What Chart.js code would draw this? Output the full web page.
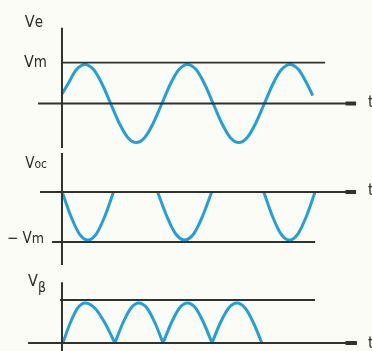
<!DOCTYPE html>
<html>
<head>
<meta charset="utf-8">
<script src="https://cdn.jsdelivr.net/npm/chart.js@4"></script>
<style>
  html, body { margin: 0; padding: 0; background: #fcfcf6; }
  #wrap { position: relative; width: 372px; height: 351px; overflow: hidden; }
  canvas { display: block; }
</style>
</head>
<body>
<div id="wrap"><canvas id="c" width="372" height="351"></canvas></div>
<script>
// ---- data (x in degrees of the input signal, y in units of Vm) ----
const veT = [10,30,60,90,120,150,180,210,240,270,300,330,360,390,420,450,480,510,540,570,600,630,660,690,720,750,780,810,840,870,890];
const veV = [0.25,0.5,0.87,1,0.87,0.5,0,-0.5,-0.87,-1,-0.87,-0.5,0,0.5,0.87,1,0.87,0.5,0,-0.5,-0.87,-1,-0.87,-0.5,0,0.5,0.87,1,0.87,0.5,0.2];

const vocT = [10,40,70,100,130,160,190, 260, 345,377,408,440,472,503,535, 620, 718,748,778,808,838,868,898];
const vocV = [0,-0.5,-0.87,-1,-0.87,-0.5,0, null, 0,-0.5,-0.87,-1,-0.87,-0.5,0, null, 0,-0.5,-0.87,-1,-0.87,-0.5,0];

const vbT = [12,38,64,90,125,160,195, 195, 195,223,251,279,308,336,364, 364, 364,393,421,450,479,507,536, 536, 536,565,594,623,653,682,711];
const vbV = [0,0.5,0.87,1,0.87,0.5,0, null, 0,0.5,0.87,1,0.87,0.5,0, null, 0,0.5,0.87,1,0.87,0.5,0, null, 0,0.5,0.87,1,0.87,0.5,0];

const vmLevel = 1.05;     // reference lines (units of Vm)

const pts = (xs, ys) => xs.map((x, i) => ({ x, y: ys[i] }));
const seg = (x0, x1, y, axis, w) => ({
  data: [{ x: x0, y }, { x: x1, y }], yAxisID: axis,
  borderColor: '#2f332f', borderWidth: w || 1.8, pointRadius: 0, tension: 0
});
const vseg = (x, y0, y1, axis) => ({
  data: [{ x, y: y0 }, { x, y: y1 }], yAxisID: axis,
  borderColor: '#2f332f', borderWidth: 2, pointRadius: 0, tension: 0
});
const curve = (xs, ys, axis) => ({
  data: pts(xs, ys), yAxisID: axis, borderColor: '#24a0d8', borderWidth: 3,
  pointRadius: 0, cubicInterpolationMode: 'monotone', spanGaps: false, capBezierPoints: false
});

const AX = 9.1; // time position of the vertical axis

const textPlugin = {
  id: 'texts',
  afterDatasetsDraw(chart) {
    const ctx = chart.ctx;
    const y1 = chart.scales.y1, y2 = chart.scales.y2, y3 = chart.scales.y3;
    ctx.save();
    ctx.fillStyle = '#2a2d2a';
    ctx.textBaseline = 'alphabetic';
    const fam = '"Liberation Sans Narrow", "DejaVu Sans Condensed", "Liberation Sans", sans-serif';
    function lab(main, sub, rightX, base, big, small, dy) {
      ctx.font = big + 'px ' + fam;
      const w1 = ctx.measureText(main).width;
      ctx.font = small + 'px ' + fam;
      const w2 = ctx.measureText(sub).width;
      const x0 = rightX - w1 - w2;
      ctx.font = big + 'px ' + fam;
      ctx.textAlign = 'left';
      ctx.fillText(main, x0, base);
      ctx.font = small + 'px ' + fam;
      ctx.fillText(sub, x0 + w1, base + dy);
    }
    lab('V', 'e', 43, 27, 16, 15, 0);
    lab('V', 'm', 47, y1.getPixelForValue(vmLevel) + 4, 16, 15, 0);
    lab('V', 'oc', 47, 168, 15, 12, 0);
    lab('\u2212 V', 'm', 44, y2.getPixelForValue(-1.042) + 1, 15, 14, 0);
    lab('V', '\u03B2', 46, 286, 16, 14, 6);
    ctx.font = '16px ' + fam;
    ctx.textAlign = 'left';
    ctx.textBaseline = 'middle';
    ctx.fillText('t', 368, y1.getPixelForValue(0) - 1);
    ctx.fillText('t', 368, y2.getPixelForValue(0) - 1);
    ctx.fillText('t', 368, y3.getPixelForValue(0) + 1);
    ctx.restore();
  }
};

new Chart(document.getElementById('c'), {
  type: 'line',
  data: {
    datasets: [
      // panel 1
      seg(-75, 1010, 0, 'y1'), seg(1005, 1042, 0, 'y1', 4),
      seg(AX, 933, vmLevel, 'y1'),
      vseg(AX, 1.94, -1.14, 'y1'),
      curve(veT, veV, 'y1'),
      // panel 2
      seg(-68, 1010, 0, 'y2'), seg(1005, 1042, 0, 'y2', 4),
      seg(-26, 898, -1.042, 'y2'),
      vseg(AX, 0.81, -1.52, 'y2'),
      curve(vocT, vocV, 'y2'),
      // panel 3
      seg(-110, 1010, 0, 'y3'), seg(1005, 1045, 0, 'y3', 4),
      seg(2, 898, 1.075, 'y3'),
      vseg(AX, 1.52, -0.2, 'y3'),
      curve(vbT, vbV, 'y3')
    ]
  },
  options: {
    responsive: false,
    animation: false,
    events: [],
    layout: { padding: 0 },
    plugins: { legend: { display: false }, tooltip: { enabled: false } },
    scales: {
      x: { type: 'linear', display: false, min: -208.6, max: 1098 },
      y1: { type: 'linear', display: false, min: -6.346, max: 2.654 },
      y2: { type: 'linear', display: false, min: -3.3125, max: 4.0 },
      y3: { type: 'linear', display: false, min: -0.2, max: 8.575 }
    }
  },
  plugins: [textPlugin]
});
</script>
</body>
</html>
